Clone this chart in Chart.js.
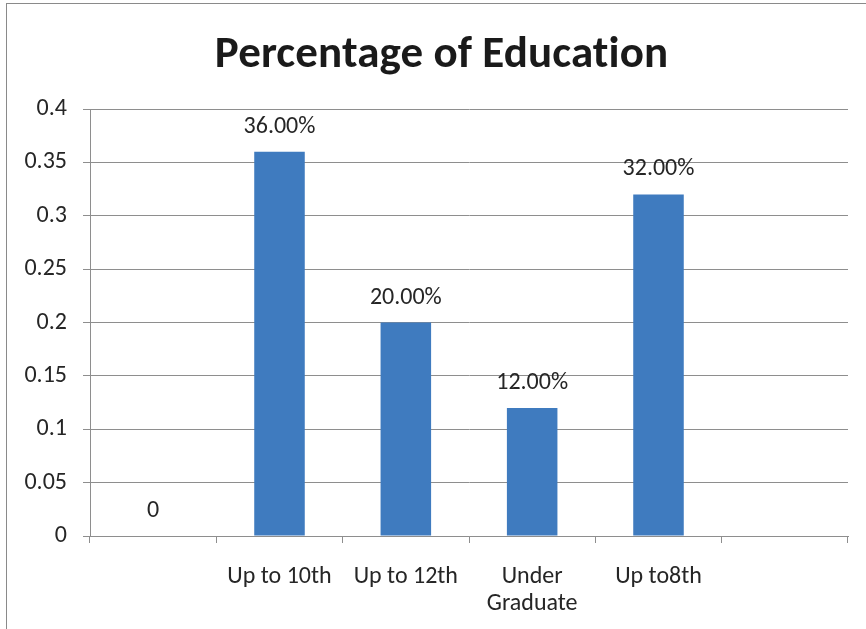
<!DOCTYPE html>
<html>
<head>
<meta charset="utf-8">
<script src="https://cdn.jsdelivr.net/npm/chart.js@4.4.1/dist/chart.umd.min.js"></script>
<style>
  html, body { margin: 0; padding: 0; background: #ffffff; overflow: hidden; }
  #wrap { position: relative; width: 866px; height: 629px; }
  canvas { display: block; }
</style>
</head>
<body>
<div id="wrap"><canvas id="c" width="866" height="629"></canvas></div>
<script>
// ---- data ----
const categories = ["", "Up to 10th", "Up to 12th", ["Under", "Graduate"], "Up to8th", ""];
const shares = [0, 0.36, 0.20, 0.12, 0.32, null];
const yTicks = [0, 0.05, 0.1, 0.15, 0.2, 0.25, 0.3, 0.35, 0.4];
const chartTitle = "Percentage of Education";

const FONT = "Carlito, Lato, 'Noto Sans', sans-serif";
const TEXT = "#262626";
const GRID = "#8e8e8e";

function fmtLabel(v) {
  if (v === 0) return "0";
  return (v * 100).toFixed(2) + "%";
}

const frame = {
  id: "frame",
  beforeDraw(chart) {
    const ctx = chart.ctx;
    ctx.save();
    ctx.fillStyle = "#ffffff";
    ctx.fillRect(0, 0, chart.width, chart.height);
    ctx.strokeStyle = "#8a8a8a";
    ctx.lineWidth = 1;
    ctx.strokeRect(6.5, 3.5, chart.width + 10, chart.height + 10);
    ctx.restore();
  }
};

// chart title, centred over the whole framed chart box (as in the source)
const titleText = {
  id: "titleText",
  afterDraw(chart) {
    const ctx = chart.ctx;
    ctx.save();
    ctx.font = "bold 45px " + FONT;
    if ("letterSpacing" in ctx) ctx.letterSpacing = "0.1px"; // avoid "ti" ligature
    ctx.fillStyle = "#1a1a1a";
    ctx.textAlign = "center";
    ctx.textBaseline = "alphabetic";
    ctx.fillText(chartTitle, (6 + chart.width + 10) / 2 + 0.5, 67);
    ctx.restore();
  }
};

const valueLabels = {
  id: "valueLabels",
  afterDatasetsDraw(chart) {
    const ctx = chart.ctx;
    const meta = chart.getDatasetMeta(0);
    const ds = chart.data.datasets[0].data;
    ctx.save();
    ctx.font = "24px " + FONT;
    ctx.fillStyle = TEXT;
    ctx.textAlign = "center";
    ctx.textBaseline = "middle";
    meta.data.forEach((bar, i) => {
      const v = ds[i];
      if (v === null || v === undefined) return;
      ctx.fillText(fmtLabel(v), bar.x, bar.y - 25);
    });
    ctx.restore();
  }
};

new Chart(document.getElementById("c"), {
  type: "bar",
  data: {
    labels: categories,
    datasets: [{
      data: shares,
      backgroundColor: "#3f7bbf",
      borderWidth: 0,
      barPercentage: 0.4,
      categoryPercentage: 1.0
    }]
  },
  options: {
    responsive: false,
    animation: false,
    devicePixelRatio: 1,
    layout: { padding: { left: 6, right: 18, top: 109, bottom: 0 } },
    plugins: {
      legend: { display: false },
      tooltip: { enabled: false },
      title: { display: false }
    },
    scales: {
      x: {
        offset: true,
        grid: {
          display: true,
          offset: true,
          drawOnChartArea: false,
          drawTicks: true,
          tickLength: 7,
          color: GRID
        },
        border: { display: true, color: GRID, width: 1 },
        ticks: {
          color: TEXT,
          font: { family: FONT, size: 24, lineHeight: 1.15 },
          padding: 20,
          maxRotation: 0,
          autoSkip: false
        },
        afterFit(scale) { scale.height = 93; }
      },
      y: {
        min: 0,
        max: 0.4,
        afterBuildTicks(scale) { scale.ticks = yTicks.map(v => ({ value: v })); },
        grid: {
          color: GRID,
          drawTicks: true,
          tickLength: 7
        },
        border: { display: true, color: GRID, width: 1 },
        ticks: {
          color: TEXT,
          font: { family: FONT, size: 24 },
          padding: 16,
          callback: (v) => String(v)
        },
        afterFit(scale) { scale.width = 84; }
      }
    }
  },
  plugins: [frame, valueLabels, titleText]
});
</script>
</body>
</html>
